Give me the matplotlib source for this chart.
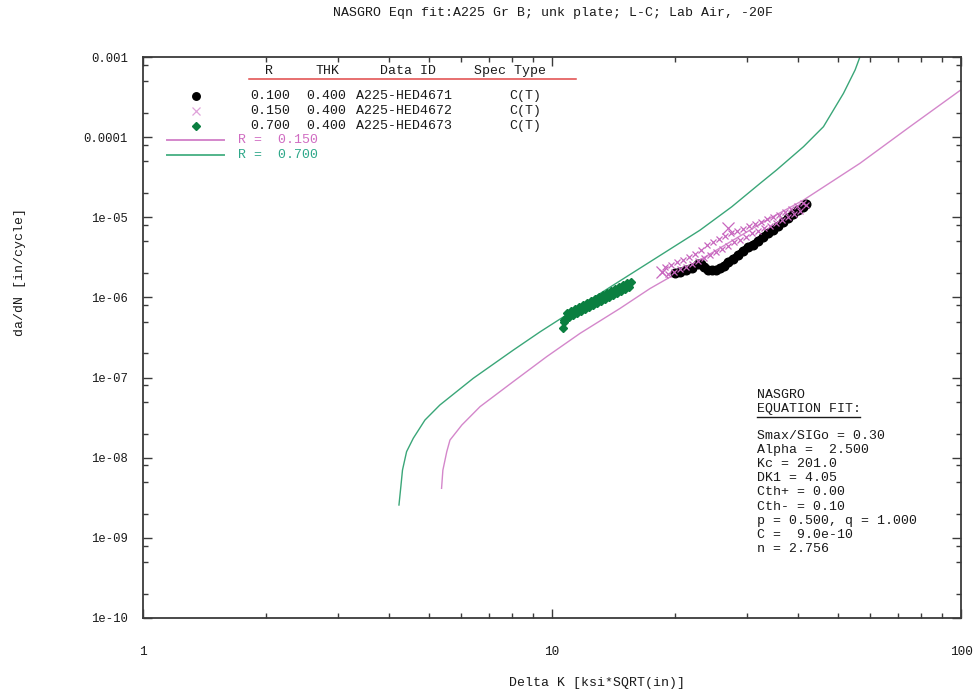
import matplotlib
matplotlib.use("Agg")
import matplotlib.pyplot as plt
from matplotlib.lines import Line2D
from matplotlib.ticker import FixedLocator, FixedFormatter, NullFormatter

# ---------------------------------------------------------------
# NASGRO equation fit curves
# ---------------------------------------------------------------
fit_r015_dk = [5.37, 5.41, 5.53, 5.63, 6.02, 6.67, 8.04, 9.70, 11.71, 14.67,
               17.36, 23.0, 33.5, 41.2, 56.6, 75.0, 100.0]
fit_r015_dadn = [4.15e-9, 7.0e-9, 1.19e-8, 1.66e-8, 2.56e-8, 4.34e-8, 8.9e-8,
                 1.82e-7, 3.56e-7, 7.3e-7, 1.29e-6, 2.93e-6, 9.24e-6, 1.64e-5,
                 4.71e-5, 1.35e-4, 3.9e-4]

fit_r070_dk = [4.225, 4.27, 4.31, 4.41, 4.58, 4.89, 5.32, 6.42, 8.04, 9.35,
               11.49, 15.23, 19.0, 23.0, 27.5, 32.3, 35.4, 41.2, 46.1, 51.6,
               55.1, 56.6]
fit_r070_dadn = [2.57e-9, 4.35e-9, 7.03e-9, 1.19e-8, 1.75e-8, 2.95e-8, 4.55e-8,
                 9.8e-8, 2.2e-7, 3.72e-7, 7.3e-7, 1.82e-6, 3.72e-6, 6.9e-6,
                 1.35e-5, 2.66e-5, 3.89e-5, 7.6e-5, 1.35e-4, 3.52e-4, 6.9e-4,
                 1.0e-3]

# ---------------------------------------------------------------
# Test data
# ---------------------------------------------------------------
# A225-HED4671, R = 0.100
hed4671_dk = [19.98, 20.56, 21.27, 22.00, 22.75, 23.14, 23.53, 24.07, 24.62,
              25.18, 25.75, 26.33, 26.93, 27.70, 28.50, 29.31, 30.15, 31.00,
              31.90, 32.81, 33.75, 34.70, 35.69, 36.71, 37.76, 38.83, 39.95,
              41.08, 41.78]
hed4671_dadn = [2.02e-6, 2.10e-6, 2.20e-6, 2.33e-6, 2.61e-6, 2.65e-6, 2.43e-6,
                2.23e-6, 2.17e-6, 2.20e-6, 2.30e-6, 2.47e-6, 2.77e-6, 3.01e-6,
                3.38e-6, 3.79e-6, 4.26e-6, 4.57e-6, 5.06e-6, 5.68e-6, 6.37e-6,
                6.94e-6, 7.78e-6, 8.73e-6, 9.66e-6, 1.10e-5, 1.23e-5, 1.36e-5,
                1.47e-5]

# A225-HED4672, R = 0.150
hed4672_dk = [18.58, 18.89, 19.21, 19.54, 19.87, 20.21, 20.56, 20.91, 21.27,
              21.63, 22.00, 22.37, 22.75, 23.14, 23.53, 23.93, 24.34, 24.76,
              25.18, 25.61, 26.04, 26.49, 26.94, 27.40, 27.86, 28.34, 28.82,
              29.31, 29.81, 30.32, 30.83, 31.36, 31.89, 32.43, 32.99, 33.55,
              34.12, 34.70, 35.29, 35.89, 36.50, 37.12, 37.76, 38.40, 39.05,
              39.72, 40.39, 41.08, 41.78]
hed4672_dadn = [2.08e-6, 2.40e-6, 1.96e-6, 2.54e-6, 2.08e-6, 2.73e-6, 2.26e-6,
                2.93e-6, 2.40e-6, 3.15e-6, 2.61e-6, 3.48e-6, 2.85e-6, 3.91e-6,
                3.10e-6, 4.51e-6, 3.38e-6, 4.92e-6, 3.69e-6, 5.36e-6, 4.02e-6,
                5.84e-6, 4.38e-6, 6.37e-6, 4.92e-6, 6.74e-6, 5.21e-6, 7.14e-6,
                5.68e-6, 7.78e-6, 6.37e-6, 8.25e-6, 6.74e-6, 8.73e-6, 7.35e-6,
                9.52e-6, 7.78e-6, 1.008e-5, 8.48e-6, 1.068e-5, 9.25e-6,
                1.164e-5, 1.008e-5, 1.269e-5, 1.099e-5, 1.383e-5, 1.198e-5,
                1.508e-5, 1.423e-5]
hed4672_flag_dk = [18.6, 26.94]
hed4672_flag_dadn = [2.08e-6, 7.35e-6]

# A225-HED4673, R = 0.700
hed4673_dk = [10.62, 10.67, 10.70, 10.76, 10.88, 11.01, 11.13, 11.25, 11.38,
              11.51, 11.64, 11.77, 11.91, 12.04, 12.18, 12.32, 12.46, 12.60,
              12.74, 12.88, 13.03, 13.18, 13.33, 13.48, 13.63, 13.79, 13.94,
              14.10, 14.26, 14.42, 14.58, 14.75, 14.91, 15.08, 15.26, 15.43,
              15.60]
hed4673_dadn = [4.12e-7, 4.94e-7, 5.23e-7, 5.38e-7, 6.39e-7, 5.70e-7, 6.77e-7,
                6.04e-7, 7.17e-7, 6.39e-7, 7.60e-7, 6.77e-7, 8.05e-7, 7.17e-7,
                8.52e-7, 7.60e-7, 9.03e-7, 8.05e-7, 9.56e-7, 8.52e-7, 1.012e-6,
                9.03e-7, 1.072e-6, 9.56e-7, 1.135e-6, 1.012e-6, 1.203e-6,
                1.072e-6, 1.274e-6, 1.135e-6, 1.349e-6, 1.203e-6, 1.429e-6,
                1.274e-6, 1.514e-6, 1.349e-6, 1.557e-6]

# ---------------------------------------------------------------
# Legend table and fit parameters
# ---------------------------------------------------------------
table_header = ["R", "THK", "Data ID", "Spec Type"]
row_ratio = ["0.100", "0.150", "0.700"]
row_thk = ["0.400", "0.400", "0.400"]
row_ids = ["A225-HED4671", "A225-HED4672", "A225-HED4673"]
row_spec = ["C(T)", "C(T)", "C(T)"]
curve_labels = ["R =  0.150", "R =  0.700"]

fit_title = ["NASGRO", "EQUATION FIT:"]
fit_lines = ["Smax/SIGo = 0.30", "Alpha =  2.500", "Kc = 201.0",
             "DK1 = 4.05", "Cth+ = 0.00", "Cth- = 0.10",
             "p = 0.500, q = 1.000", "C =  9.0e-10", "n = 2.756"]

x_ticks = [1, 10, 100]
x_ticklabels = ["1", "10", "100"]
y_ticks = [1e-10, 1e-9, 1e-8, 1e-7, 1e-6, 1e-5, 1e-4, 1e-3]
y_ticklabels = ["1e-10", "1e-09", "1e-08", "1e-07", "1e-06", "1e-05",
                "0.0001", "0.001"]

# ---------------------------------------------------------------
# Styling
# ---------------------------------------------------------------
MONO = "Liberation Mono"
FS = 9.5
W, H = 974, 694
C_MAG_LINE = "#d487cb"
C_GRN_LINE = "#3aa678"
C_MAG_DATA = "#c866bf"
C_GRN_DATA = "#0b7f40"
C_AXIS = "#3a3a3a"
C_TEXT = "#1a1a1a"

plt.rcParams["font.family"] = [MONO, "DejaVu Sans Mono"]

fig = plt.figure(figsize=(W / 100, H / 100), dpi=100)
fig.patch.set_facecolor("white")


def fx(x):
    return x / W


def fy(y):
    return 1 - y / H


ax = fig.add_axes([fx(143), fy(618), (961 - 143) / W, (618 - 57) / H])
ax.set_xscale("log")
ax.set_yscale("log")
ax.set_xlim(1, 100)
ax.set_ylim(1e-10, 1e-3)

# fit curves
ax.plot(fit_r015_dk, fit_r015_dadn, color=C_MAG_LINE, lw=1.0, zorder=2)
ax.plot(fit_r070_dk, fit_r070_dadn, color=C_GRN_LINE, lw=1.0, zorder=2)

# data
ax.plot(hed4671_dk, hed4671_dadn, ls="-", lw=5.0, color="black",
        solid_capstyle="round", solid_joinstyle="round", marker="o", ms=6.2,
        mfc="black", mec="black", zorder=3)
ax.plot(hed4672_dk, hed4672_dadn, ls="none", marker="x", ms=4.0, mew=0.9,
        color=C_MAG_DATA, zorder=4)
ax.plot(hed4672_flag_dk, hed4672_flag_dadn, ls="none", marker="x", ms=8,
        mew=0.9, color=C_MAG_DATA, zorder=4)
ax.plot(hed4673_dk, hed4673_dadn, ls="none", marker="D", ms=4.0,
        mfc=C_GRN_DATA, mec=C_GRN_DATA, zorder=4)

# axes frame and ticks
for sp in ax.spines.values():
    sp.set_color(C_AXIS)
    sp.set_linewidth(1.3)

ax.xaxis.set_major_locator(FixedLocator(x_ticks))
ax.xaxis.set_major_formatter(FixedFormatter(x_ticklabels))
x_minor = [m * 10 ** d for d in range(0, 2) for m in range(2, 10)]
ax.xaxis.set_minor_locator(FixedLocator(x_minor))
ax.xaxis.set_minor_formatter(NullFormatter())

ax.yaxis.set_major_locator(FixedLocator(y_ticks))
ax.yaxis.set_major_formatter(FixedFormatter(y_ticklabels))
y_minor = [m * 10.0 ** d for d in range(-10, -3) for m in (2, 5, 8)]
ax.yaxis.set_minor_locator(FixedLocator(y_minor))
ax.yaxis.set_minor_formatter(NullFormatter())

ax.tick_params(which="both", direction="in", top=True, right=True,
               color=C_AXIS, width=1.0)
ax.tick_params(which="major", length=6.5)
ax.tick_params(which="minor", length=3.6)
ax.tick_params(axis="x", which="major", pad=20, labelsize=9.2,
               labelcolor=C_TEXT)
ax.tick_params(axis="y", which="major", pad=11, labelsize=8.8,
               labelcolor=C_TEXT)

# titles
fig.text(fx(553), fy(13), "NASGRO Eqn fit:A225 Gr B; unk plate; L-C; Lab Air, -20F",
         ha="center", va="center", fontsize=FS, color=C_TEXT)
fig.text(fx(597), fy(683), "Delta K [ksi*SQRT(in)]", ha="center",
         va="center", fontsize=FS, color=C_TEXT)
fig.text(fx(20), fy(272), "da/dN [in/cycle]", ha="center", va="center",
         rotation=90, fontsize=FS, color=C_TEXT)

# legend table
header_x = [269, 327, 408, 510.5]
for hx, label in zip(header_x, table_header):
    fig.text(fx(hx), fy(71), label, ha="center", va="center", fontsize=FS,
             color=C_TEXT)
fig.add_artist(Line2D([fx(249), fx(576)], [fy(79), fy(79)],
                      transform=fig.transFigure, color="#e04848", lw=1.1))

row_y = [96, 111, 126]
row_marker = [dict(marker="o", ms=5.4, mfc="black", mec="black"),
              dict(marker="x", ms=5.2, mew=0.9, color="#e0a2da"),
              dict(marker="D", ms=3.8, mfc=C_GRN_DATA, mec=C_GRN_DATA)]
for i, ry in enumerate(row_y):
    fig.add_artist(Line2D([fx(196)], [fy(ry)], transform=fig.transFigure,
                          ls="none", **row_marker[i]))
    fig.text(fx(250), fy(ry), row_ratio[i], ha="left", va="center",
             fontsize=FS, color=C_TEXT)
    fig.text(fx(306.5), fy(ry), row_thk[i], ha="left", va="center",
             fontsize=FS, color=C_TEXT)
    fig.text(fx(356), fy(ry), row_ids[i], ha="left", va="center",
             fontsize=FS, color=C_TEXT)
    fig.text(fx(509.5), fy(ry), row_spec[i], ha="left", va="center",
             fontsize=FS, color=C_TEXT)

curve_y = [140, 154.5]
curve_line_col = [C_MAG_LINE, "#52b48a"]
curve_text_col = ["#d06cc2", "#2fa88a"]
for i, cy in enumerate(curve_y):
    fig.add_artist(Line2D([fx(167), fx(224)], [fy(cy), fy(cy)],
                          transform=fig.transFigure,
                          color=curve_line_col[i], lw=1.4))
    fig.text(fx(238), fy(cy), curve_labels[i], ha="left", va="center",
             fontsize=FS, color=curve_text_col[i])

# fit parameter block
fig.text(fx(757), fy(395), fit_title[0], ha="left", va="center",
         fontsize=FS, color=C_TEXT)
fig.text(fx(757), fy(409), fit_title[1], ha="left", va="center",
         fontsize=FS, color=C_TEXT)
fig.add_artist(Line2D([fx(757), fx(860)], [fy(417.5), fy(417.5)],
                      transform=fig.transFigure, color=C_TEXT, lw=1.0))
for i, line in enumerate(fit_lines):
    fig.text(fx(757), fy(436 + 14.1 * i), line, ha="left", va="center",
             fontsize=FS, color=C_TEXT)

fig.savefig("out.png", dpi=100, facecolor="white")
